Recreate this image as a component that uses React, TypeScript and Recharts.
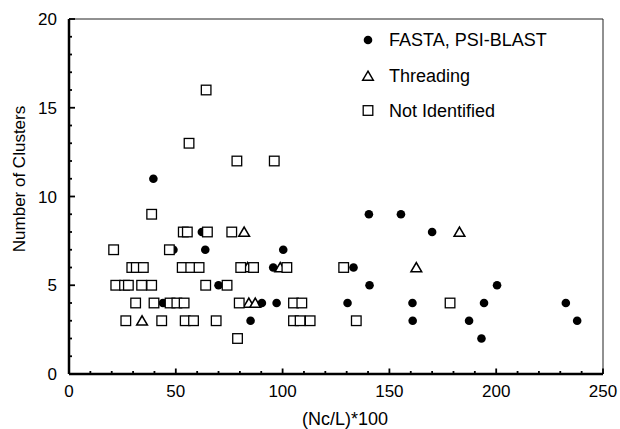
import React from 'react'
import { ReferenceLine, Scatter, ScatterChart, XAxis, YAxis, Label } from 'recharts'

const FONT = '"Liberation Sans", Arial, Helvetica, sans-serif'

// axis ticks
const xTicks = [0, 10, 20, 30, 40, 50, 60, 70, 80, 90, 100, 110, 120, 130, 140, 150, 160, 170, 180, 190, 200, 210, 220, 230, 240, 250]
const yTicks = [0, 1, 2, 3, 4, 5, 6, 7, 8, 9, 10, 11, 12, 13, 14, 15, 16, 17, 18, 19, 20]
const xLabelTicks = [0, 50, 100, 150, 200, 250]
const yLabelTicks = [0, 5, 10, 15, 20]

// FASTA, PSI-BLAST (filled circles)
const fastaX = [39.5, 62.2, 48.9, 63.8, 100.3, 95.6, 133.2, 70, 140.7, 200.4, 44, 90.3, 97.2, 130.4, 160.8, 194.3, 232.6, 85, 160.9, 187.3, 237.9, 193.1, 140.4, 155.4, 170]
const fastaY = [11, 8, 7, 7, 7, 6, 6, 5, 5, 5, 4, 4, 4, 4, 4, 4, 4, 3, 3, 3, 3, 2, 9, 9, 8]

// Threading (open triangles)
const threadX = [34.2, 84.2, 87.2, 83.6, 98.9, 82, 162.6, 182.8]
const threadY = [3, 4, 4, 6, 6, 8, 6, 8]

// Not Identified (open squares)
const notIdX = [
  64.2, 56.2, 78.6, 96.1, 38.7,
  53.5, 55.4, 64.8, 76.2,
  20.9, 47,
  29.4, 31.5, 34.8, 53, 57, 60.9, 80.4, 86.4, 102, 128.6,
  21.9, 26, 27.8, 34, 38.7, 64, 74,
  31.2, 39.8, 47.3, 50.5, 53.9, 79.7, 105.1, 109, 178.4,
  26.6, 43.4, 54.4, 58.3, 68.9, 105.1, 108.2, 112.9, 134.5,
  78.9,
]
const notIdY = [
  16, 13, 12, 12, 9,
  8, 8, 8, 8,
  7, 7,
  6, 6, 6, 6, 6, 6, 6, 6, 6, 6,
  5, 5, 5, 5, 5, 5, 5,
  4, 4, 4, 4, 4, 4, 4, 4, 4,
  3, 3, 3, 3, 3, 3, 3, 3, 3,
  2,
]

const toPoints = (xs: number[], ys: number[]) => xs.map((x, i) => ({ x, y: ys[i] }))

const fastaData = toPoints(fastaX, fastaY)
const threadData = toPoints(threadX, threadY)
const notIdData = toPoints(notIdX, notIdY)

const triPath = (cx: number, cy: number) =>
  `M${cx},${cy - 4.8} L${cx + 5.3},${cy + 4.2} L${cx - 5.3},${cy + 4.2} Z`

const CircleMark = (p: any) => <circle cx={p.cx} cy={p.cy} r={4.3} fill="#000" />

const TriMark = (p: any) => (
  <path d={triPath(p.cx, p.cy)} fill="#fff" stroke="#000" strokeWidth={1.6} />
)

const SquareMark = (p: any) => (
  <rect x={p.cx - 4.8} y={p.cy - 4.8} width={9.6} height={9.6} fill="#fff" stroke="#000" strokeWidth={1.3} />
)

function XTick({ x, y, payload }: any) {
  const major = xLabelTicks.includes(payload.value)
  return (
    <g>
      <line x1={x} x2={x} y1={y} y2={y - (major ? 5.5 : 3)} stroke="#000" strokeWidth={1.8} />
      {major && (
        <text x={x} y={y + 23} textAnchor="middle" fontSize={17} fontFamily={FONT} fill="#000">
          {payload.value}
        </text>
      )}
    </g>
  )
}

function YTick({ x, y, payload }: any) {
  const major = yLabelTicks.includes(payload.value)
  return (
    <g>
      <line x1={x} x2={x + (major ? 6 : 3)} y1={y} y2={y} stroke="#000" strokeWidth={1.8} />
      {major && (
        <text x={x - 12} y={y + 6} textAnchor="end" fontSize={17} fontFamily={FONT} fill="#000">
          {payload.value}
        </text>
      )}
    </g>
  )
}

// legend rows: label and vertical centre
const legendNames = ['FASTA, PSI-BLAST', 'Threading', 'Not Identified']
const legendRowY = [40, 76, 110.5]

function LegendBox() {
  const mx = 368
  return (
    <svg width={620} height={140} style={{ position: 'absolute', left: 0, top: 0, pointerEvents: 'none' }}>
      <circle cx={mx} cy={legendRowY[0]} r={4.3} fill="#000" />
      <path d={triPath(mx, legendRowY[1])} fill="#fff" stroke="#000" strokeWidth={1.5} />
      <rect x={mx - 4.8} y={legendRowY[2] - 4.8} width={9.6} height={9.6} fill="#fff" stroke="#000" strokeWidth={1.3} />
      {legendNames.map((name, i) => (
        <text key={name} x={389} y={legendRowY[i] + 6.4} fontSize={18} fontFamily={FONT} fill="#000">
          {name}
        </text>
      ))}
    </svg>
  )
}

export default function App() {
  return (
    <div style={{ position: 'absolute', left: 0, top: 0, width: 620, height: 429, background: '#fff' }}>
      <ScatterChart width={620} height={429} margin={{ top: 19, right: 17, bottom: 0, left: 0 }}>
        <XAxis
          type="number"
          dataKey="x"
          domain={[0, 250]}
          ticks={xTicks}
          interval={0}
          tickSize={0}
          tickMargin={0}
          tickLine={false}
          tick={<XTick />}
          height={55}
          axisLine={{ stroke: '#000', strokeWidth: 2.5 }}
        >
          <Label
            content={() => (
              <text x={345} y={425} textAnchor="middle" fontSize={18} fontFamily={FONT} fill="#000">
                (Nc/L)*100
              </text>
            )}
          />
        </XAxis>
        <YAxis
          type="number"
          dataKey="y"
          domain={[0, 20]}
          ticks={yTicks}
          interval={0}
          tickSize={0}
          tickMargin={0}
          tickLine={false}
          tick={<YTick />}
          width={69}
          axisLine={{ stroke: '#000', strokeWidth: 2.5 }}
        >
          <Label
            content={() => (
              <text
                x={25}
                y={179}
                transform="rotate(-90 25 179)"
                textAnchor="middle"
                fontSize={17}
                fontFamily={FONT}
                fill="#000"
              >
                Number of Clusters
              </text>
            )}
          />
        </YAxis>
        <ReferenceLine y={20} stroke="#222" strokeWidth={1} />
        <ReferenceLine x={250} stroke="#222" strokeWidth={1} />
        <Scatter name="Threading" data={threadData} shape={TriMark} isAnimationActive={false} />
        <Scatter name="FASTA, PSI-BLAST" data={fastaData} shape={CircleMark} isAnimationActive={false} />
        <Scatter name="Not Identified" data={notIdData} shape={SquareMark} isAnimationActive={false} />
      </ScatterChart>
      <LegendBox />
    </div>
  )
}
